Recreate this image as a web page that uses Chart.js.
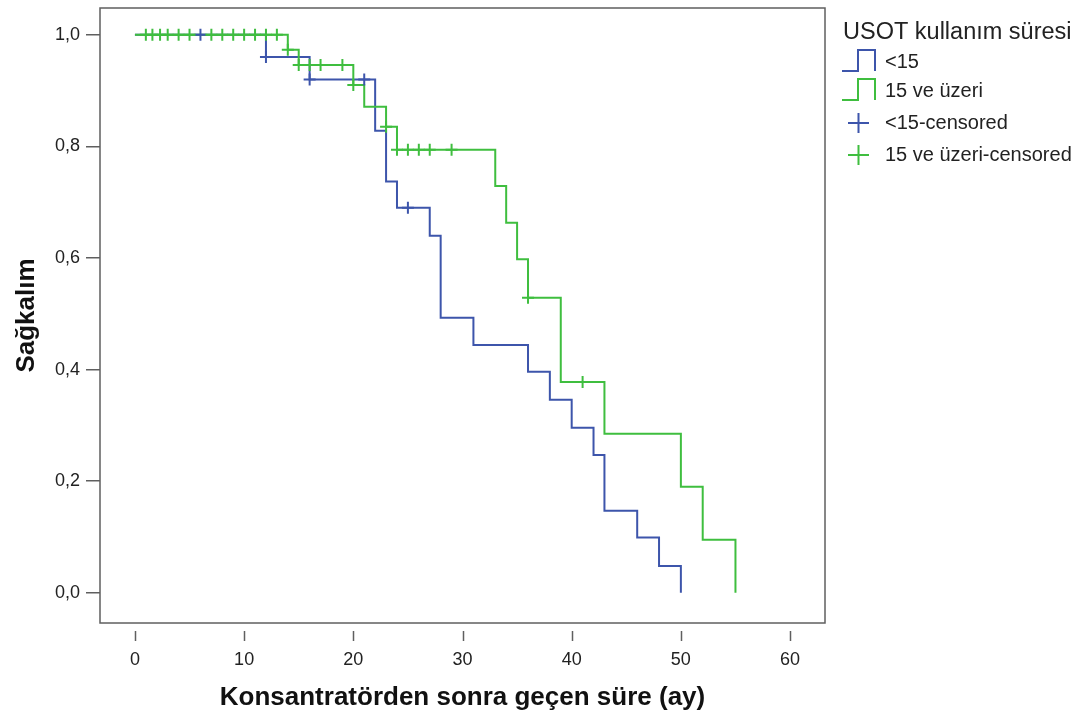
<!DOCTYPE html>
<html>
<head>
<meta charset="utf-8">
<script src="https://cdn.jsdelivr.net/npm/chart.js@4"></script>
<style>
  body { margin: 0; background: #fff; }
  #wrap { width: 1084px; height: 722px; position: relative; }
</style>
</head>
<body>
<div id="wrap"><canvas id="kmChart"></canvas></div>
<script>
// ---- data ----
const blueTimes = [0, 12, 16, 22, 23, 24, 27, 28, 31, 36, 38, 40, 42, 43, 46, 48, 50];
const blueSurv  = [1, 0.96, 0.92, 0.828, 0.737, 0.69, 0.64, 0.493, 0.444, 0.396, 0.346, 0.296, 0.247, 0.147, 0.099, 0.048, 0];
const blueCensored = [6, 12, 16, 21, 25];

const greenTimes = [0, 14, 15, 20, 21, 23, 24, 33, 34, 35, 36, 39, 43, 50, 52, 55];
const greenSurv  = [1, 0.973, 0.946, 0.91, 0.871, 0.835, 0.794, 0.729, 0.663, 0.598, 0.529, 0.378, 0.285, 0.19, 0.095, 0];
const greenCensored = [1, 1.6, 2.3, 3, 4, 5, 7, 8, 9, 10, 11, 12, 13, 14, 15, 16, 17, 19, 20, 23, 24, 25, 26, 27, 29, 36, 41];

const xTicks = [0, 10, 20, 30, 40, 50, 60];
const yTicks = [0, 0.2, 0.4, 0.6, 0.8, 1.0];

const legendTitle = 'USOT kullanım süresi';
const legendLabels = ['<15', '15 ve üzeri', '<15-censored', '15 ve üzeri-censored'];

const BLUE = '#3d55ab';
const GREEN = '#3fbe3f';
const FONT = '"Liberation Sans", Arial, sans-serif';

// survival value of the step curve at time t
function survAt(times, surv, t) {
    let s = surv[0];
    for (let i = 0; i < times.length; i++) {
        if (times[i] <= t) s = surv[i];
    }
    return s;
}

function toPoints(xs, ys) {
    return xs.map((x, i) => ({ x: x, y: ys[i] }));
}

// frame around the plot + detached x tick marks
const framePlugin = {
    id: 'frame',
    afterDraw(chart) {
        const ctx = chart.ctx;
        const a = chart.chartArea;
        ctx.save();
        ctx.strokeStyle = '#5f5f5f';
        ctx.lineWidth = 1.5;
        ctx.strokeRect(a.left, a.top, a.right - a.left, a.bottom - a.top);
        const xs = chart.scales.x;
        ctx.beginPath();
        xTicks.forEach(v => {
            const px = Math.round(xs.getPixelForValue(v)) + 0.5;
            ctx.moveTo(px, a.bottom + 8);
            ctx.lineTo(px, a.bottom + 18);
        });
        ctx.stroke();
        ctx.restore();
    }
};

// legend in the SPSS style at the top right
const legendPlugin = {
    id: 'spssLegend',
    afterDraw(chart) {
        const ctx = chart.ctx;
        ctx.save();
        ctx.fillStyle = '#222';
        ctx.textBaseline = 'middle';
        ctx.textAlign = 'left';
        ctx.font = '23.5px ' + FONT;
        ctx.fillText(legendTitle, 843, 33);

        const rows = [62, 91, 123, 155];
        const colors = [BLUE, GREEN, BLUE, GREEN];
        ctx.lineWidth = 2;
        rows.forEach((cy, i) => {
            ctx.strokeStyle = colors[i];
            ctx.beginPath();
            if (i < 2) {
                ctx.moveTo(842, cy + 9);
                ctx.lineTo(858, cy + 9);
                ctx.lineTo(858, cy - 12);
                ctx.lineTo(875, cy - 12);
                ctx.lineTo(875, cy + 9);
            } else {
                ctx.moveTo(848, cy);
                ctx.lineTo(869, cy);
                ctx.moveTo(858.5, cy - 10);
                ctx.lineTo(858.5, cy + 10);
            }
            ctx.stroke();
            ctx.font = '20px ' + FONT;
            ctx.fillText(legendLabels[i], 885, cy);
        });
        ctx.restore();
    }
};

function createChart() {
    const ctx = document.getElementById('kmChart').getContext('2d');
    new Chart(ctx, {
        type: 'line',
        data: {
            datasets: [
                {
                    label: legendLabels[2],
                    type: 'scatter',
                    data: blueCensored.map(t => ({ x: t, y: survAt(blueTimes, blueSurv, t) })),
                    pointStyle: 'cross',
                    pointRadius: 6,
                    borderWidth: 2,
                    borderColor: BLUE,
                    showLine: false,
                    order: 2
                },
                {
                    label: legendLabels[3],
                    type: 'scatter',
                    data: greenCensored.map(t => ({ x: t, y: survAt(greenTimes, greenSurv, t) })),
                    pointStyle: 'cross',
                    pointRadius: 6,
                    borderWidth: 2,
                    borderColor: GREEN,
                    showLine: false,
                    order: 1
                },
                {
                    label: legendLabels[0],
                    data: toPoints(blueTimes, blueSurv),
                    stepped: 'before',
                    borderColor: BLUE,
                    borderWidth: 2,
                    pointRadius: 0,
                    fill: false,
                    order: 4
                },
                {
                    label: legendLabels[1],
                    data: toPoints(greenTimes, greenSurv),
                    stepped: 'before',
                    borderColor: GREEN,
                    borderWidth: 2,
                    pointRadius: 0,
                    fill: false,
                    order: 3
                }
            ]
        },
        options: {
            responsive: true,
            maintainAspectRatio: false,
            animation: false,
            layout: { padding: { top: 2, right: 259, left: 0, bottom: 0 } },
            plugins: {
                legend: { display: false },
                tooltip: { enabled: false }
            },
            scales: {
                x: {
                    type: 'linear',
                    min: -3.2,
                    max: 63.2,
                    afterBuildTicks: s => { s.ticks = xTicks.map(v => ({ value: v })); },
                    afterFit: s => { s.height = 99; s.paddingLeft = 0; s.paddingRight = 0; },
                    border: { display: false },
                    grid: { display: false, drawTicks: false },
                    ticks: {
                        padding: 26,
                        color: '#222',
                        font: { family: FONT, size: 18 },
                        maxRotation: 0
                    },
                    title: {
                        display: true,
                        text: 'Konsantratörden sonra geçen süre (ay)',
                        color: '#111',
                        font: { family: FONT, size: 26, weight: 'bold' },
                        padding: { top: 0, bottom: 9 }
                    }
                },
                y: {
                    type: 'linear',
                    min: -0.054,
                    max: 1.048,
                    afterBuildTicks: s => { s.ticks = yTicks.map(v => ({ value: v })); },
                    afterFit: s => { s.width = 100; s.paddingTop = 0; s.paddingBottom = 0; },
                    border: { display: false },
                    grid: {
                        drawOnChartArea: false,
                        drawTicks: true,
                        tickLength: 14,
                        tickColor: '#5f5f5f',
                        lineWidth: 1.5
                    },
                    ticks: {
                        padding: 6,
                        color: '#222',
                        font: { family: FONT, size: 18 },
                        callback: v => v.toFixed(1).replace('.', ',')
                    },
                    title: {
                        display: true,
                        text: 'Sağkalım',
                        color: '#111',
                        font: { family: FONT, size: 26, weight: 'bold' },
                        padding: { top: 11, bottom: 0 }
                    }
                }
            }
        },
        plugins: [framePlugin, legendPlugin]
    });
}

window.addEventListener('DOMContentLoaded', createChart);
</script>
</body>
</html>
